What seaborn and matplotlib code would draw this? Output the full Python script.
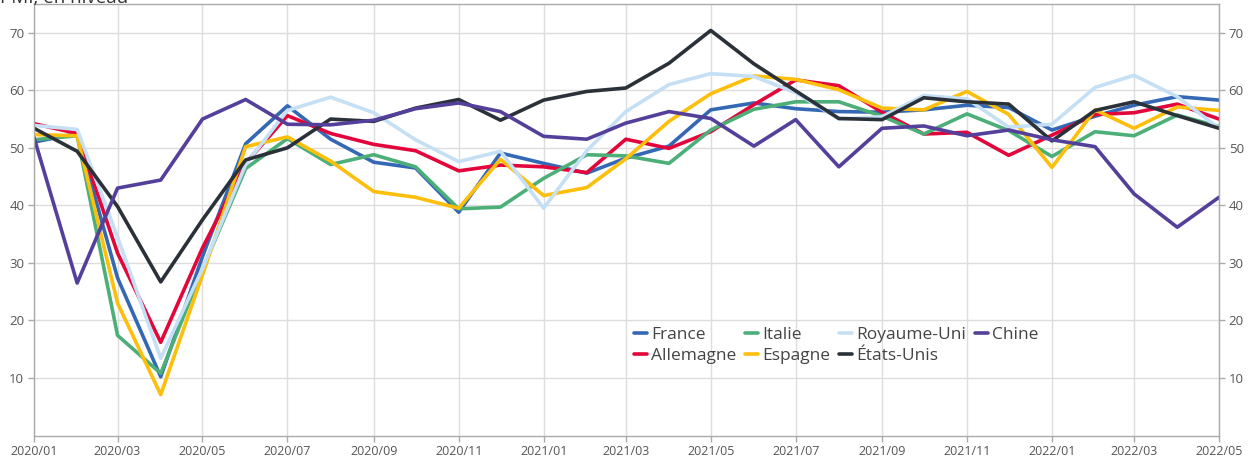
import pandas as pd
import numpy as np
import seaborn as sns
import matplotlib.pyplot as plt
import matplotlib.dates as mdates

# PMI services, monthly 2020/01 -> 2022/05
months = pd.date_range('2020-01-01', '2022-05-01', freq='MS')

france = [51.0, 52.5, 27.4, 10.2, 31.1, 50.7, 57.3, 51.5, 47.5, 46.5, 38.8, 49.1,
          47.3, 45.6, 48.2, 50.3, 56.6, 57.8, 56.8, 56.3, 56.2, 56.6, 57.4, 57.0,
          53.1, 55.5, 57.4, 58.9, 58.3]
allemagne = [54.2, 52.5, 31.7, 16.2, 32.6, 47.3, 55.6, 52.5, 50.6, 49.5, 46.0, 47.0,
             46.7, 45.7, 51.5, 49.9, 52.8, 57.5, 61.8, 60.8, 56.2, 52.4, 52.7, 48.7,
             52.2, 55.8, 56.1, 57.6, 55.0]
italie = [51.4, 52.1, 17.4, 10.8, 28.9, 46.4, 51.6, 47.1, 48.8, 46.7, 39.4, 39.7,
          44.7, 48.8, 48.6, 47.3, 53.1, 56.7, 58.0, 58.0, 55.5, 52.4, 55.9, 53.0,
          48.5, 52.8, 52.1, 55.7, 53.7]
espagne = [52.3, 52.1, 23.0, 7.1, 27.9, 50.2, 51.9, 47.7, 42.4, 41.4, 39.5, 48.0,
           41.7, 43.1, 48.1, 54.6, 59.4, 62.5, 61.9, 60.1, 56.9, 56.6, 59.8, 55.8,
           46.6, 56.6, 53.4, 57.1, 56.5]
royaume_uni = [53.9, 53.2, 34.5, 13.4, 29.0, 47.1, 56.5, 58.8, 56.1, 51.4, 47.6, 49.4,
               39.5, 49.5, 56.3, 61.0, 62.9, 62.4, 59.6, 55.0, 55.4, 59.1, 58.5, 53.6,
               54.1, 60.5, 62.6, 58.9, 53.4]
etats_unis = [53.4, 49.4, 39.8, 26.7, 37.5, 47.9, 50.0, 55.0, 54.6, 56.9, 58.4, 54.8,
              58.3, 59.8, 60.4, 64.7, 70.4, 64.6, 59.9, 55.1, 54.9, 58.7, 58.0, 57.6,
              51.2, 56.5, 58.0, 55.6, 53.4]
chine = [51.8, 26.5, 43.0, 44.4, 55.0, 58.4, 54.1, 54.0, 54.8, 56.8, 57.8, 56.3,
         52.0, 51.5, 54.3, 56.3, 55.1, 50.3, 54.9, 46.7, 53.4, 53.8, 52.1, 53.1,
         51.4, 50.2, 42.0, 36.2, 41.4]

series = {
    'France': france,
    'Allemagne': allemagne,
    'Italie': italie,
    'Espagne': espagne,
    'Royaume-Uni': royaume_uni,
    'États-Unis': etats_unis,
    'Chine': chine,
}
colors = ['#3468b5', '#e3063b', '#4caf78', '#fdbf0b', '#c5dff5', '#2b3139', '#54409a']

df = pd.DataFrame(series, index=months).reset_index(names='date')
df = df.melt(id_vars='date', var_name='pays', value_name='pmi')

sns.set_theme(style='whitegrid')
plt.rcParams['font.family'] = ['Open Sans', 'DejaVu Sans']

fig = plt.figure(figsize=(12.52, 4.57), dpi=100)
ax = fig.add_axes([34 / 1252, 1 - 435.5 / 457, (1219 - 34) / 1252, (435.5 - 4) / 457])

sns.lineplot(data=df, x='date', y='pmi', hue='pays', hue_order=list(series),
             palette=colors, linewidth=2.6, ax=ax)

ax.set_xlim(months[0], months[-1])
ax.set_ylim(0, 75)
ax.set_yticks(range(10, 80, 10))
ax.xaxis.set_major_locator(mdates.MonthLocator(bymonth=[1, 3, 5, 7, 9, 11]))
ax.xaxis.set_major_formatter(mdates.DateFormatter('%Y/%m'))
ax.set_xlabel('')
ax.set_ylabel('')

ax.grid(True, color='#dddddd', linewidth=1)
for s in ax.spines.values():
    s.set_color('#aaaaaa')
    s.set_linewidth(1)
ax.tick_params(axis='both', which='major', length=4, width=1, color='#aaaaaa',
               labelcolor='#555555', labelsize=9, pad=3)
ax.tick_params(axis='y', right=True, labelright=True, left=True, labelsize=9.5)
ax.tick_params(axis='x', bottom=True)

ax.legend(loc='upper left', bbox_to_anchor=(625 / 1252, 1 - 318 / 457),
          bbox_transform=fig.transFigure, ncol=4, frameon=False,
          fontsize=12.5, handlelength=0.75, handletextpad=0.25,
          columnspacing=0.5, labelspacing=0.3, borderpad=0,
          labelcolor='#444444')

fig.text(0.0, 1 - 3 / 457, 'PMI, en niveau', fontsize=13.5, color='#333333',
         ha='left', va='baseline')

fig.savefig('out.png', dpi=100)
